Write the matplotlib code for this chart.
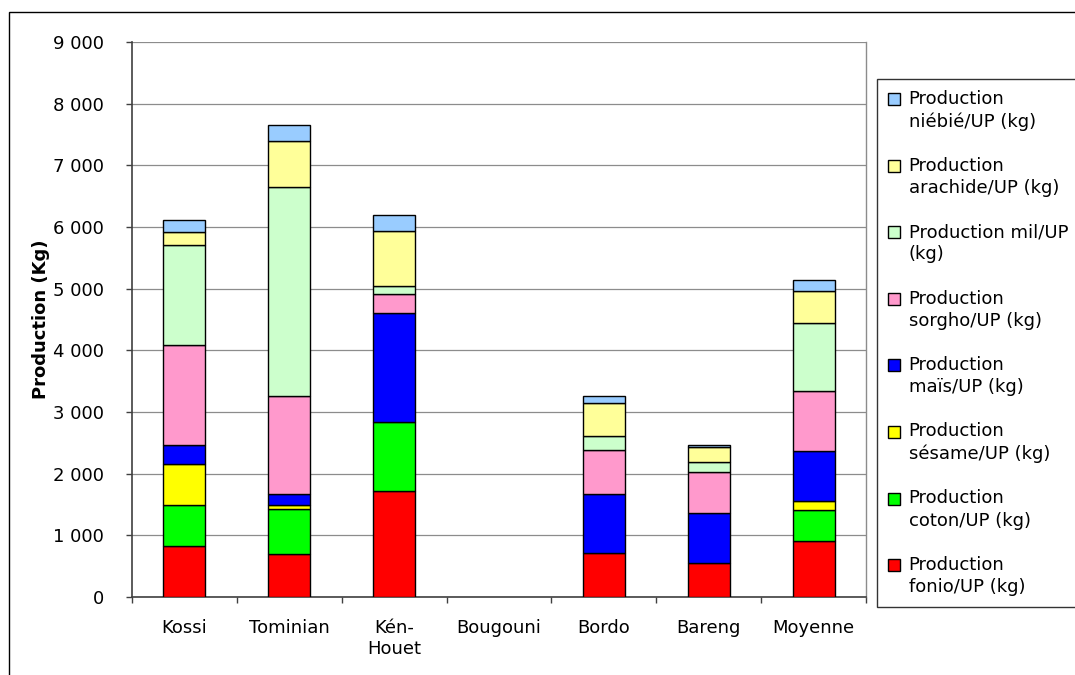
import matplotlib
matplotlib.use("Agg")
import matplotlib.pyplot as plt
import numpy as np
from matplotlib.patches import Rectangle
from matplotlib.legend_handler import HandlerPatch
from matplotlib.ticker import FuncFormatter, MultipleLocator, FixedLocator

plt.rcParams['font.family'] = ['DejaVu Sans']

regions = ["Kossi", "Tominian", "Kén-\nHouet", "Bougouni", "Bordo", "Bareng", "Moyenne"]

# Production per UP (kg), one list per crop, stacked bottom to top
fonio    = [830, 700, 1720, 0, 710, 555, 910]
coton    = [660, 730, 1120, 0, 0, 0, 500]
sesame   = [660, 65, 0, 0, 0, 0, 150]
mais     = [320, 170, 1770, 0, 955, 800, 800]
sorgho   = [1620, 1600, 300, 0, 720, 670, 980]
mil      = [1620, 3390, 135, 0, 230, 160, 1100]
arachide = [210, 735, 890, 0, 530, 255, 520]
niebie   = [200, 265, 260, 0, 120, 30, 180]

series = [
    ("Production\nfonio/UP (kg)", fonio, "#FF0000"),
    ("Production\ncoton/UP (kg)", coton, "#00FF00"),
    ("Production\nsésame/UP (kg)", sesame, "#FFFF00"),
    ("Production\nmaïs/UP (kg)", mais, "#0000FF"),
    ("Production\nsorgho/UP (kg)", sorgho, "#FF99CC"),
    ("Production mil/UP\n(kg)", mil, "#CCFFCC"),
    ("Production\narachide/UP (kg)", arachide, "#FFFF99"),
    ("Production\nniébié/UP (kg)", niebie, "#99CCFF"),
]

W, H = 1075, 675
fig = plt.figure(figsize=(W / 100, H / 100), dpi=100)
fig.patch.set_facecolor("white")

# outer chart border (runs off the right and bottom edges)
fig.add_artist(Rectangle((9 / W, -0.2), 1.5, 1.2 - 12 / H,
                         transform=fig.transFigure, fill=False,
                         edgecolor="black", linewidth=1.0, zorder=0))

ax = fig.add_axes([132 / W, (H - 597) / H, (866 - 132) / W, (597 - 42) / H])

x = np.arange(len(regions))
bottom = np.zeros(len(regions))
keys = []
for label, vals, color in series:
    vals = np.array(vals, dtype=float)
    lw = np.where(vals > 0, 1.0, 0.0)
    ax.bar(x, vals, width=0.40, bottom=bottom, color=color,
           edgecolor="black", linewidth=lw, zorder=3)
    keys.append(Rectangle((0, 0), 1, 1, facecolor=color,
                          edgecolor="black", linewidth=1.0))
    bottom += vals

ax.set_xlim(-0.5, len(regions) - 0.5)
ax.set_ylim(0, 9000)

ax.yaxis.set_major_locator(MultipleLocator(1000))
ax.yaxis.set_major_formatter(FuncFormatter(lambda v, p: f"{int(v):,}".replace(",", " ")))
ax.grid(axis="y", color="#8c8c8c", linewidth=0.9, zorder=0)
ax.set_axisbelow(True)

ax.set_xticks(x)
ax.set_xticklabels(regions)
ax.xaxis.set_minor_locator(FixedLocator(np.arange(-0.5, len(regions), 1.0)))
ax.tick_params(axis="x", which="major", length=0, pad=16, labelsize=13)
ax.tick_params(axis="x", which="minor", length=4, width=1, color="#404040", direction="out")
ax.tick_params(axis="y", length=4, width=1, color="#404040", pad=16, labelsize=13)

for s in ("left", "bottom"):
    ax.spines[s].set_color("#404040")
    ax.spines[s].set_linewidth(1.2)
ax.spines["right"].set_color("#8c8c8c")
ax.spines["right"].set_linewidth(1.0)
ax.spines["top"].set_visible(False)

ax.set_ylabel("Production (Kg)", fontsize=13, fontweight="bold", labelpad=2)


def square(legend, orig_handle, xdescent, ydescent, width, height, fontsize):
    # key square sits beside the first line of a two-line label
    return Rectangle((-xdescent, -ydescent + 0.64 * fontsize), width, height)


leg = fig.legend(keys[::-1], [s[0] for s in series][::-1],
                 loc="upper left", bbox_to_anchor=(877 / W, 1 - 79 / H),
                 bbox_transform=fig.transFigure,
                 fontsize=13, frameon=True, fancybox=False, shadow=False,
                 edgecolor="black", handlelength=0.65, handleheight=0.65,
                 handletextpad=0.5, labelspacing=1.45, borderpad=0.6,
                 borderaxespad=0,
                 handler_map={Rectangle: HandlerPatch(patch_func=square)})
leg.get_frame().set_linewidth(1.0)
for t in leg.get_texts():
    t.set_linespacing(1.3)

fig.savefig("out.png", dpi=100)
